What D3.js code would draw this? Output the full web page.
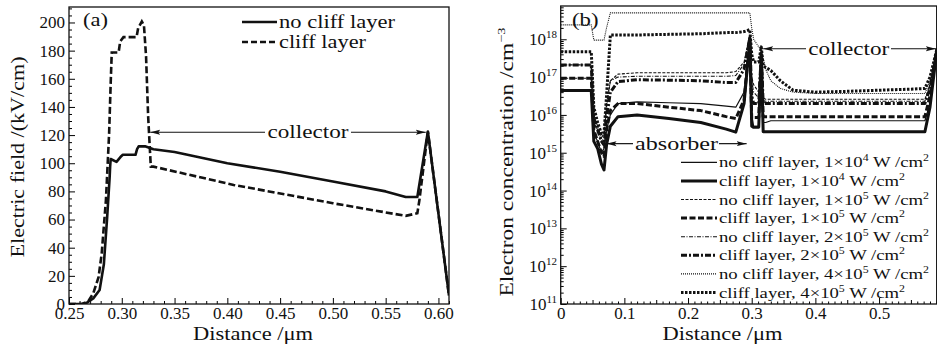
<!DOCTYPE html>
<html>
<head>
<meta charset="utf-8">
<script src="https://cdn.jsdelivr.net/npm/d3@7"></script>
<style>
  body { margin: 0; background: #fff; }
  svg { display: block; font-family: "Liberation Serif", "DejaVu Serif", serif; }
</style>
</head>
<body>
<svg id="chart" width="937" height="349"></svg>
<script>
// ---------- panel (a): electric field ----------
const distNoCliff = [0.25, 0.265, 0.273, 0.279, 0.283, 0.286, 0.2885, 0.289, 0.2895, 0.295, 0.2995, 0.301, 0.313, 0.3145, 0.316, 0.322, 0.33, 0.35, 0.40, 0.45, 0.50, 0.55, 0.569, 0.58, 0.59, 0.61];
const fieldNoCliff = [0, 0, 4, 10, 28, 60, 90, 98, 103, 101, 105, 106, 106, 110, 112, 112, 110, 108, 100, 94, 87, 80, 76, 76, 122.5, 6];
const distCliff = [0.25, 0.262, 0.268, 0.273, 0.278, 0.281, 0.285, 0.288, 0.2895, 0.2905, 0.297, 0.2985, 0.3016, 0.314, 0.3155, 0.319, 0.321, 0.323, 0.325, 0.3275, 0.33, 0.406, 0.50, 0.569, 0.58, 0.582, 0.59, 0.61];
const fieldCliff = [0, 0, 1.7, 7.6, 19, 36, 74, 121, 157, 178.7, 178.7, 186.5, 189.6, 189.6, 196, 200.7, 198, 176, 133, 97.6, 97.6, 84.6, 71.6, 62.6, 64.5, 74, 122.5, 6];
const xTicksA = [0.25, 0.30, 0.35, 0.40, 0.45, 0.50, 0.55, 0.60];
const yTicksA = [0, 20, 40, 60, 80, 100, 120, 140, 160, 180, 200];
const seriesA = ["no cliff layer", "cliff layer"];

// ---------- panel (b): electron concentration ----------
const distB = [0, 0.048, 0.052, 0.058, 0.064, 0.068, 0.072, 0.078, 0.09, 0.12, 0.17, 0.22, 0.26, 0.275, 0.288, 0.297, 0.300, 0.303, 0.311, 0.315, 0.318, 0.322, 0.33, 0.345, 0.365, 0.40, 0.45, 0.50, 0.55, 0.572, 0.58, 0.591];
const nNoCliff1e4 = [4.4e16, 4.4e16, 3.2e15, 2e15, 1e15, 1.3e15, 4e15, 1e16, 2e16, 2.2e16, 2.1e16, 2e16, 1.7e16, 1.6e16, 4e16, 1e18, 1e16, 5e15, 5e15, 3.2e17, 6.3e15, 6.3e15, 7e15, 7e15, 7e15, 7e15, 7e15, 7e15, 7e15, 7e15, 2e16, 5.6e17];
const nCliff1e4 = [4.4e16, 4.4e16, 2e15, 1.3e15, 5e14, 3.5e14, 1.6e15, 5e15, 9e15, 1e16, 8e15, 6.3e15, 4.2e15, 3.5e15, 2e16, 1e18, 5e15, 4.7e15, 4.7e15, 4e17, 3.6e15, 3.6e15, 3.6e15, 3.6e15, 3.6e15, 3.6e15, 3.6e15, 3.6e15, 3.6e15, 3.6e15, 1.6e16, 5.6e17];
const nNoCliff1e5 = [9.3e16, 9.3e16, 6.3e15, 4e15, 2e15, 2.5e15, 1.6e16, 8e16, 1.2e17, 1.3e17, 1.3e17, 1.3e17, 1.3e17, 1.4e17, 2.5e17, 1.3e18, 1e17, 6.3e16, 4e16, 3.2e17, 2.8e16, 2.6e16, 2.6e16, 2.6e16, 2.6e16, 2.6e16, 2.6e16, 2.6e16, 2.6e16, 2.6e16, 6.3e16, 5.6e17];
const nCliff1e5 = [9.3e16, 9.3e16, 4e15, 2e15, 1e15, 8e14, 4e15, 1.3e16, 2e16, 2e16, 1.6e16, 1.3e16, 9e15, 8e15, 2.5e16, 1e18, 8e15, 8.5e15, 8.5e15, 4e17, 9e15, 9e15, 9e15, 9e15, 9e15, 9e15, 9e15, 9e15, 9e15, 9e15, 3.2e16, 5.6e17];
const nNoCliff2e5 = [2.1e17, 2.1e17, 1e16, 5e15, 2.5e15, 3.2e15, 2e16, 8e16, 1e17, 1.05e17, 1.05e17, 1.05e17, 1.05e17, 1.1e17, 2.2e17, 1.3e18, 8e16, 4e16, 2.8e16, 3.2e17, 2.4e16, 2.3e16, 2.3e16, 2.3e16, 2.3e16, 2.3e16, 2.3e16, 2.3e16, 2.3e16, 2.3e16, 6.3e16, 5.6e17];
const nCliff2e5 = [2.1e17, 2.1e17, 8e15, 4e15, 2e15, 1.6e15, 8e15, 4e16, 7.6e16, 8.5e16, 8.3e16, 8e16, 7.2e16, 7.2e16, 1.6e17, 1.1e18, 3.2e16, 2e16, 2e16, 4e17, 2e16, 2e16, 2e16, 2e16, 2e16, 2e16, 2e16, 2e16, 2e16, 2e16, 5e16, 5.6e17];
const nNoCliff4e5 = [2.4e18, 2.4e18, 9.5e17, 9.5e17, 9.5e17, 9.5e17, 2e18, 5e18, 5e18, 5e18, 5e18, 5e18, 5e18, 5e18, 5e18, 5e18, 2e18, 1e18, 6.3e17, 5e17, 3.2e17, 1.6e17, 8e16, 5e16, 4e16, 3.7e16, 3.7e16, 3.7e16, 3.7e16, 3.7e16, 8e16, 5.6e17];
const nCliff4e5 = [4.7e17, 4.7e17, 1.6e16, 6.3e15, 3.2e15, 3.2e15, 3.2e16, 1.3e18, 1.3e18, 1.3e18, 1.35e18, 1.4e18, 1.5e18, 1.5e18, 1.6e18, 1.8e18, 4e17, 2.5e17, 2.5e17, 6.3e17, 2e17, 1.8e17, 1.5e17, 8e16, 4.5e16, 4e16, 4.2e16, 4.5e16, 4.8e16, 5e16, 1e17, 5.6e17];
const seriesB = [
  { name: "no cliff layer", coef: "1", exp: "4", values: nNoCliff1e4 },
  { name: "cliff layer", coef: "1", exp: "4", values: nCliff1e4 },
  { name: "no cliff layer", coef: "1", exp: "5", values: nNoCliff1e5 },
  { name: "cliff layer", coef: "1", exp: "5", values: nCliff1e5 },
  { name: "no cliff layer", coef: "2", exp: "5", values: nNoCliff2e5 },
  { name: "cliff layer", coef: "2", exp: "5", values: nCliff2e5 },
  { name: "no cliff layer", coef: "4", exp: "5", values: nNoCliff4e5 },
  { name: "cliff layer", coef: "4", exp: "5", values: nCliff4e5 }
];
const xTicksB = [0, 0.1, 0.2, 0.3, 0.4, 0.5];
const yExpB = [11, 12, 13, 14, 15, 16, 17, 18];

// line styles for panel (b), same order as seriesB
const stylesB = [
  { w: 1.2, dash: null },
  { w: 3, dash: null },
  { w: 1.1, dash: "3,1.5" },
  { w: 3, dash: "6,2.5" },
  { w: 1.1, dash: "4,1.5,1,1.5" },
  { w: 3, dash: "6,2,2,2" },
  { w: 1.1, dash: "1,1" },
  { w: 3, dash: "2.5,1.5" }
];

const ink = "#111";
const svg = d3.select("#chart");
const defs = svg.append("defs");
defs.append("marker").attr("id", "arr")
  .attr("viewBox", "0 -4 10 8").attr("refX", 10).attr("refY", 0)
  .attr("markerWidth", 10).attr("markerHeight", 8).attr("markerUnits", "userSpaceOnUse")
  .attr("orient", "auto")
  .append("path").attr("d", "M0,-2.5L10,0L0,2.5L2,0Z").attr("fill", ink);

// text helper, width forced to match the wide serif of the original
function label(g, x, y, size, str, width, anchor) {
  const t = g.append("text").attr("x", x).attr("y", y).attr("font-size", size)
    .attr("fill", ink).attr("text-anchor", anchor || "start").text(str);
  if (width) t.attr("textLength", width).attr("lengthAdjust", "spacingAndGlyphs");
  return t;
}

// ================= panel (a) =================
const xA = d3.scaleLinear().domain([0.25, 0.61]).range([69, 449]);
const yA = d3.scaleLinear().domain([0, 211]).range([304, 7]);

defs.append("clipPath").attr("id", "clipA").append("rect")
  .attr("x", 69).attr("y", 7).attr("width", 380).attr("height", 297);

const gA = svg.append("g");

const axA = gA.append("g").attr("transform", "translate(0,304)")
  .call(d3.axisBottom(xA).tickValues(d3.range(0.25, 0.6101, 0.01)).tickSize(-3).tickFormat(""));
axA.selectAll(".tick line").filter((d, i) => i % 5 === 0).attr("y2", -6);
axA.select(".domain").remove();
gA.append("g").attr("transform", "translate(0,304)")
  .call(d3.axisBottom(xA).tickValues(xTicksA).tickSize(0).tickPadding(3).tickFormat(d3.format(".2f")))
  .call(g => g.select(".domain").remove())
  .attr("font-family", null)
  .selectAll("text").attr("font-size", 17).attr("fill", ink);

const ayA = gA.append("g").attr("transform", "translate(69,0)")
  .call(d3.axisLeft(yA).tickValues(d3.range(0, 211, 5)).tickSize(-3).tickFormat(""));
ayA.selectAll(".tick line").filter(d => d % 20 === 0).attr("x2", 6);
ayA.select(".domain").remove();
gA.append("g").attr("transform", "translate(69,0)")
  .call(d3.axisLeft(yA).tickValues(yTicksA).tickSize(0).tickPadding(4))
  .call(g => g.select(".domain").remove())
  .attr("font-family", null)
  .selectAll("text").attr("font-size", 17).attr("fill", ink);

gA.append("rect").attr("x", 69).attr("y", 7).attr("width", 380).attr("height", 297)
  .attr("fill", "none").attr("stroke", ink).attr("stroke-width", 1.3);

const lineA = d3.line().x(d => xA(d[0])).y(d => yA(d[1]));
gA.append("path").attr("clip-path", "url(#clipA)")
  .attr("d", lineA(d3.zip(distNoCliff, fieldNoCliff)))
  .attr("fill", "none").attr("stroke", ink).attr("stroke-width", 2.6).attr("stroke-linejoin", "round");
gA.append("path").attr("clip-path", "url(#clipA)")
  .attr("d", lineA(d3.zip(distCliff, fieldCliff)))
  .attr("fill", "none").attr("stroke", ink).attr("stroke-width", 2.6).attr("stroke-dasharray", "7,3");

// collector annotation
gA.append("line").attr("x1", 265).attr("x2", xA(0.327)).attr("y1", yA(122)).attr("y2", yA(122))
  .attr("stroke", ink).attr("stroke-width", 1.2).attr("marker-end", "url(#arr)");
gA.append("line").attr("x1", 351).attr("x2", xA(0.588)).attr("y1", yA(122)).attr("y2", yA(122))
  .attr("stroke", ink).attr("stroke-width", 1.2).attr("marker-end", "url(#arr)");
label(gA, 308, yA(122) + 6, 18, "collector", 81, "middle");

label(gA, 83, 26, 18, "(a)", 25);

// legend (a)
seriesA.forEach((s, i) => {
  const ly = 22 + i * 20;
  gA.append("line").attr("x1", 242).attr("x2", 277).attr("y1", ly).attr("y2", ly)
    .attr("stroke", ink).attr("stroke-width", 2.6).attr("stroke-dasharray", i ? "6,3" : null);
  label(gA, 279, ly + 6, 18, s, i ? 87 : 116);
});

label(gA, 253, 340, 18, "Distance /\u03bcm", 120, "middle");
gA.append("text").attr("transform", "translate(24,157) rotate(-90)").attr("text-anchor", "middle")
  .attr("font-size", 18).attr("fill", ink)
  .attr("textLength", 201).attr("lengthAdjust", "spacingAndGlyphs")
  .text("Electric field /(kV/cm)");

// ================= panel (b) =================
const xB = d3.scaleLinear().domain([0, 0.591]).range([560.7, 937]);
const yB = d3.scaleLog().domain([1e11, Math.pow(10, 18.88)]).range([304, 6]);

defs.append("clipPath").attr("id", "clipB").append("rect")
  .attr("x", 560.7).attr("y", 6).attr("width", 376.3).attr("height", 298);

const gB = svg.append("g");

const axB = gB.append("g").attr("transform", "translate(0,304)")
  .call(d3.axisBottom(xB).tickValues(d3.range(0, 0.5901, 0.01)).tickSize(-2.5).tickFormat(""));
axB.selectAll(".tick line").filter((d, i) => i % 10 === 0).attr("y2", -6);
axB.selectAll(".tick line").filter((d, i) => i % 10 === 5).attr("y2", -4);
axB.select(".domain").remove();
gB.append("g").attr("transform", "translate(0,304)")
  .call(d3.axisBottom(xB).tickValues(xTicksB).tickSize(0).tickPadding(3).tickFormat(d => d === 0 ? "0" : d3.format(".1f")(d)))
  .call(g => g.select(".domain").remove())
  .attr("font-family", null)
  .selectAll("text").attr("font-size", 17).attr("fill", ink);

const minorB = [];
yExpB.forEach(e => { for (let m = 1; m < 10; m++) { const v = m * Math.pow(10, e); if (v <= Math.pow(10, 18.88)) minorB.push(v); } });
const ayB = gB.append("g").attr("transform", "translate(560.7,0)")
  .call(d3.axisLeft(yB).tickValues(minorB).tickSize(-3).tickFormat(""));
ayB.selectAll(".tick line").filter(d => Math.abs(Math.log10(d) % 1) < 1e-9).attr("x2", 6);
ayB.select(".domain").remove();

// y labels: 10 with superscript exponent
yExpB.forEach(e => {
  const t = gB.append("text").attr("x", 557).attr("y", yB(Math.pow(10, e)) + 6)
    .attr("text-anchor", "end").attr("fill", ink);
  t.append("tspan").attr("font-size", 17).text("10");
  t.append("tspan").attr("font-size", 11).attr("dy", -7).text(e);
});

gB.append("rect").attr("x", 560.7).attr("y", 6).attr("width", 376).attr("height", 298)
  .attr("fill", "none").attr("stroke", ink).attr("stroke-width", 1.3);

const lineB = d3.line().x(d => xB(d[0])).y(d => yB(d[1]));
seriesB.forEach((s, i) => {
  gB.append("path").attr("clip-path", "url(#clipB)")
    .attr("d", lineB(d3.zip(distB, s.values)))
    .attr("fill", "none").attr("stroke", ink)
    .attr("stroke-width", stylesB[i].w).attr("stroke-dasharray", stylesB[i].dash)
    .attr("stroke-linejoin", "round");
});

// annotations (b)
const yAbs = yB(Math.pow(10, 15.24));
gB.append("line").attr("x1", 633).attr("x2", xB(0.072)).attr("y1", yAbs).attr("y2", yAbs)
  .attr("stroke", ink).attr("stroke-width", 1.2).attr("marker-end", "url(#arr)");
gB.append("line").attr("x1", 719).attr("x2", xB(0.292)).attr("y1", yAbs).attr("y2", yAbs)
  .attr("stroke", ink).attr("stroke-width", 1.2).attr("marker-end", "url(#arr)");
label(gB, 676.5, yAbs + 6, 18, "absorber", 83, "middle");

const yCol = yB(Math.pow(10, 17.75));
gB.append("line").attr("x1", 806).attr("x2", xB(0.318)).attr("y1", yCol).attr("y2", yCol)
  .attr("stroke", ink).attr("stroke-width", 1.2).attr("marker-end", "url(#arr)");
gB.append("line").attr("x1", 891).attr("x2", xB(0.589)).attr("y1", yCol).attr("y2", yCol)
  .attr("stroke", ink).attr("stroke-width", 1.2).attr("marker-end", "url(#arr)");
label(gB, 848.7, yCol + 6, 18, "collector", 81, "middle");

label(gB, 572, 26, 18, "(b)", 26.5);

// legend (b)
seriesB.forEach((s, i) => {
  const ly = 162.3 + i * 18.6;
  gB.append("line").attr("x1", 681).attr("x2", 717).attr("y1", ly).attr("y2", ly)
    .attr("stroke", ink).attr("stroke-width", stylesB[i].w).attr("stroke-dasharray", stylesB[i].dash);
  const t = gB.append("text").attr("x", 719).attr("y", ly + 5).attr("font-size", 15).attr("fill", ink)
    .attr("textLength", s.name.length > 12 ? 210 : 186).attr("lengthAdjust", "spacingAndGlyphs");
  t.append("tspan").text(s.name + ", " + s.coef + "\u00d710");
  t.append("tspan").attr("font-size", 9.5).attr("dy", -6).text(s.exp);
  t.append("tspan").attr("dy", 6).text(" W /cm");
  t.append("tspan").attr("font-size", 9.5).attr("dy", -6).text("2");
});

label(gB, 722.5, 340, 18, "Distance /\u03bcm", 120, "middle");
const yt = gB.append("text").attr("transform", "translate(513,162) rotate(-90)").attr("text-anchor", "middle")
  .attr("font-size", 18).attr("fill", ink)
  .attr("textLength", 269).attr("lengthAdjust", "spacingAndGlyphs");
yt.append("tspan").text("Electron concentration /cm");
yt.append("tspan").attr("font-size", 11).attr("dy", -8).text("\u22123");
</script>
</body>
</html>
